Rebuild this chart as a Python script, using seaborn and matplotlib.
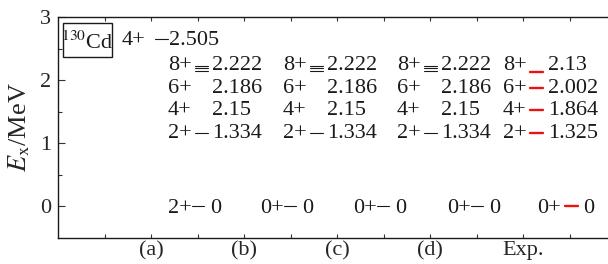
import matplotlib
matplotlib.use("Agg")
import matplotlib.pyplot as plt
from matplotlib.patches import Rectangle
import seaborn as sns
import pandas as pd

# ---------------- data ----------------
col_labels = ["(a)", "(b)", "(c)", "(d)", "Exp."]
a_spins = ["2+", "4+"]
a_energies = [0.0, 2.505]
th_spins = ["0+", "2+", "4+", "6+", "8+"]
th_energies = [0.0, 1.334, 2.15, 2.186, 2.222]
exp_spins = ["0+", "2+", "4+", "6+", "8+"]
exp_energies = [0.0, 1.325, 1.864, 2.002, 2.13]
nucleus_mass = "130"
nucleus_sym = "Cd"

# ---------------- style ----------------
sns.set_theme(style="ticks")
plt.rcParams["font.family"] = ["Liberation Serif", "DejaVu Serif"]
plt.rcParams["mathtext.fontset"] = "stix"
plt.rcParams["axes.edgecolor"] = "black"
plt.rcParams["text.color"] = "#1a1a1a"

W, H = 608, 264
fig = plt.figure(figsize=(W / 100, H / 100), dpi=100)
AX_L, AX_R, AX_T, AX_B = 58, 608, 17, 238
ax = fig.add_axes([AX_L / W, (H - AX_B) / H, (AX_R - AX_L) / W, (AX_B - AX_T) / H])
PXX = 93.0
ax.set_xlim(0, (AX_R - AX_L) / PXX)
ax.set_ylim(-0.5, 3)


def dx(px):
    return px / PXX


def xd(px):
    return (px - AX_L) / PXX


# ---------------- layout (text rows) ----------------
row_of = {"0+": 0.0, "2+": 1.20, "4+": 1.56, "6+": 1.91, "8+": 2.27}
a_row_of = {"2+": 0.0, "4+": 2.67}
FS = 16

segs = []  # (x0, x1, y, kind)
texts = []  # (x, y, s)


def add_group(x_start, spin, energy, row, dash, val_off, line_y, kind):
    texts.append((x_start, row, spin))
    texts.append((x_start + dx(val_off), row, f"{energy:g}"))
    if line_y is not None:
        segs.append((x_start + dx(dash[0]), x_start + dx(dash[1]), line_y, kind))


# (a) column
for s, e in zip(a_spins, a_energies):
    if e == 0:
        add_group(xd(168), s, e, 0.0, (24, 36), 42, 0.0, "th")
    else:
        add_group(xd(122), s, e, a_row_of[s], (33, 46), 47, a_row_of[s] - 0.02, "th")

# theory columns (b), (c), (d)
top_starts = [168, 283, 397]
bottom_starts = [260, 353, 447]
for ts, bs in zip(top_starts, bottom_starts):
    for s, e in zip(th_spins, th_energies):
        if e == 0:
            add_group(xd(bs), s, e, 0.0, (24, 36), 42, 0.0, "th")
        elif s in ("4+", "6+", "8+"):
            add_group(xd(ts), s, e, row_of[s], (27, 40), 44, e, "th")
        else:
            add_group(xd(ts), s, e, row_of[s], (27, 40), 44, row_of[s] - 0.03, "th")

# experiment column
for s, e in zip(exp_spins, exp_energies):
    if e == 0:
        add_group(xd(537), s, e, 0.0, (28, 41), 46, 0.0, "exp")
    elif s == "8+":
        add_group(xd(503), s, e, row_of[s], (27, 40), 45, e, "exp")
    else:
        add_group(xd(503), s, e, row_of[s], (27, 40), 45, row_of[s] - 0.03, "exp")

rows = []
for i, (x0, x1, y, k) in enumerate(segs):
    rows.append({"x": x0, "y": y, "seg": i, "kind": k})
    rows.append({"x": x1, "y": y, "seg": i, "kind": k})
df = pd.DataFrame(rows)

sns.lineplot(data=df[df.kind == "th"], x="x", y="y", units="seg", estimator=None,
             sort=False, color="#1a1a1a", lw=0.8, ax=ax, legend=False)
sns.lineplot(data=df[df.kind == "exp"], x="x", y="y", units="seg", estimator=None,
             sort=False, color="#ee1111", lw=1.7, ax=ax, legend=False)

for x, y, s in texts:
    ax.text(x, y, s, fontsize=FS, ha="left", va="center_baseline")

# nucleus box
bx0, by0, bx1, by1 = 63, 23, 112, 57
ax.add_patch(Rectangle(((bx0 - AX_L) / (AX_R - AX_L), (AX_B - by1) / (AX_B - AX_T)),
                       (bx1 - bx0) / (AX_R - AX_L), (by1 - by0) / (AX_B - AX_T),
                       transform=ax.transAxes, fill=False, ec="#1a1a1a", lw=1.0))
ax.text(((bx0 + bx1) / 2 - AX_L) / (AX_R - AX_L), (AX_B - (by0 + by1) / 2) / (AX_B - AX_T),
        f"$^{{{nucleus_mass}}}$" + nucleus_sym, transform=ax.transAxes,
        ha="center", va="center_baseline", fontsize=FS)

# axes / ticks
ax.set_xticks(range(1, len(col_labels) + 1))
ax.set_xticklabels(col_labels, fontsize=16)
ax.set_xticks([0.5 + i for i in range(6)], minor=True)
ax.set_yticks([0, 1, 2, 3])
ax.set_yticklabels(["0", "1", "2", "3"], fontsize=16)
ax.set_yticks([0.5, 1.5, 2.5], minor=True)
ax.tick_params(axis="both", which="both", direction="in", top=True, right=False,
               color="#333333", width=0.8)
ax.tick_params(axis="x", which="major", length=3, pad=2)
ax.tick_params(axis="x", which="minor", length=3)
ax.tick_params(axis="y", which="major", length=5, pad=5)
ax.tick_params(axis="y", which="minor", length=3)
ax.spines["right"].set_visible(False)
for sp in ("left", "top", "bottom"):
    ax.spines[sp].set_linewidth(1.0)
    ax.spines[sp].set_color("#1a1a1a")
ax.set_xlabel("")
ax.set_ylabel(r"$E_\mathrm{x}$/MeV", fontsize=19, labelpad=6)

fig.savefig("out.png", dpi=100)
